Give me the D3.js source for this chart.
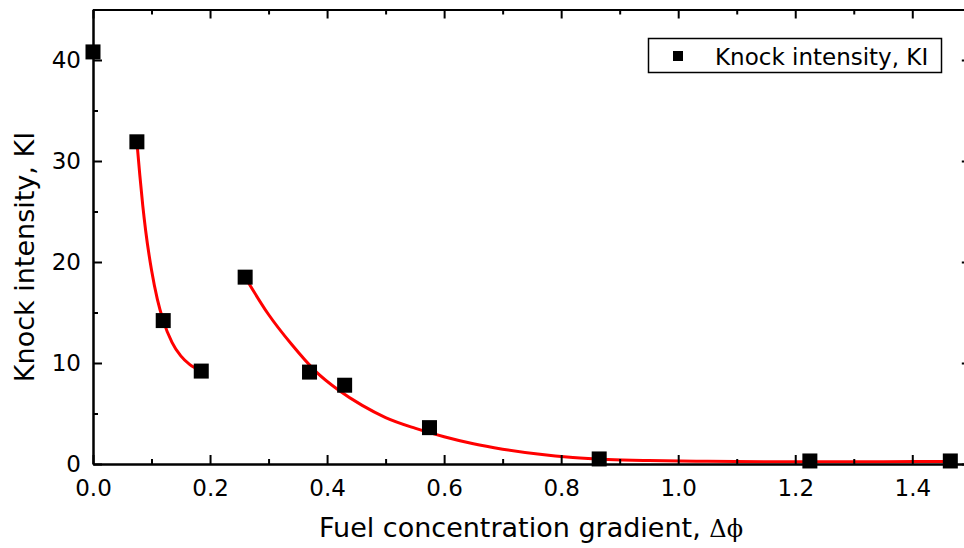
<!DOCTYPE html>
<html>
<head>
<meta charset="utf-8">
<script src="https://cdn.jsdelivr.net/npm/d3@7"></script>
<style>
  html, body { margin: 0; padding: 0; background: #fff; }
  svg { display: block; }
  text { font-family: "DejaVu Sans", "Liberation Sans", sans-serif; fill: #000; }
</style>
</head>
<body>
<svg id="chart" width="964" height="548"></svg>
<script>
// ---- data ----
const pointX = [0.0, 0.075, 0.12, 0.185, 0.26, 0.37, 0.43, 0.575, 0.865, 1.225, 1.465];
const pointY = [40.8, 31.9, 14.2, 9.2, 18.5, 9.1, 7.8, 3.6, 0.5, 0.3, 0.3];

// fitted curve 1
const fit1X = [0.075, 0.08, 0.085, 0.09, 0.10, 0.11, 0.12, 0.135, 0.15, 0.165, 0.185];
const fit1Y = [31.9, 28.6, 25.6, 23.1, 19.2, 16.3, 14.2, 12.05, 10.7, 9.86, 9.2];

// fitted curve 2
const fit2X = [0.26, 0.30, 0.34, 0.38, 0.42, 0.46, 0.50, 0.55, 0.60, 0.65, 0.70, 0.76, 0.82, 0.88, 0.95, 1.05, 1.2, 1.35, 1.465];
const fit2Y = [18.5, 14.8, 11.8, 9.2, 7.3, 5.8, 4.6, 3.55, 2.7, 2.0, 1.47, 0.98, 0.64, 0.45, 0.34, 0.26, 0.22, 0.23, 0.25];

const xMajorTicks = [0.0, 0.2, 0.4, 0.6, 0.8, 1.0, 1.2, 1.4];
const xMinorTicks = [0.1, 0.3, 0.5, 0.7, 0.9, 1.1, 1.3, 1.5];
const yMajorTicks = [0, 10, 20, 30, 40];
const yMinorTicks = [5, 15, 25, 35, 45];
const xDomain = [0, 1.5];
const yDomain = [0, 45];

const xTitle = "Fuel concentration gradient, ";
const xTitleSym = "\u0394\u03D5";
const yTitle = "Knock intensity, KI";
const legendLabel = "Knock intensity, KI";

// ---- layout ----
const svg = d3.select("#chart");
const margin = { left: 93, top: 9.5 };
const plotW = 877.8, plotH = 454.5;

const x = d3.scaleLinear().domain(xDomain).range([0, plotW]);
const y = d3.scaleLinear().domain(yDomain).range([plotH, 0]);

const g = svg.append("g").attr("transform", `translate(${margin.left},${margin.top})`);

// curves
const line = d3.line().x(d => x(d[0])).y(d => y(d[1])).curve(d3.curveMonotoneX);
const fit1 = fit1X.map((v, i) => [v, fit1Y[i]]);
const fit2 = fit2X.map((v, i) => [v, fit2Y[i]]);
[fit1, fit2].forEach(d => {
  g.append("path").datum(d).attr("d", line)
    .attr("fill", "none").attr("stroke", "#ff0000").attr("stroke-width", 3);
});

// points
const sq = 15;
g.selectAll("rect.pt").data(pointX.map((v, i) => [v, pointY[i]])).enter()
  .append("rect").attr("class", "pt")
  .attr("x", d => x(d[0]) - sq / 2).attr("y", d => y(d[1]) - sq / 2)
  .attr("width", sq).attr("height", sq).attr("fill", "#000");

// axes
function styleAxis(sel) {
  sel.select(".domain").attr("stroke", "#000").attr("stroke-width", 2);
  sel.selectAll(".tick line").attr("stroke", "#000").attr("stroke-width", 2);
  sel.selectAll(".tick text").style("font-size", "23px").attr("fill", "#000");
}

const fmtX = d3.format(".1f");
g.append("g").attr("transform", `translate(0,${plotH})`)
  .call(d3.axisBottom(x).tickValues(xMajorTicks).tickFormat(fmtX).tickSize(-9).tickSizeOuter(0).tickPadding(16))
  .call(styleAxis);
g.append("g").attr("transform", `translate(0,${plotH})`)
  .call(d3.axisBottom(x).tickValues(xMinorTicks).tickFormat("").tickSize(-5).tickSizeOuter(0))
  .call(styleAxis);
g.append("g")
  .call(d3.axisTop(x).tickValues(xMajorTicks).tickFormat("").tickSize(-9).tickSizeOuter(0))
  .call(styleAxis);
g.append("g")
  .call(d3.axisTop(x).tickValues(xMinorTicks).tickFormat("").tickSize(-5).tickSizeOuter(0))
  .call(styleAxis);

g.append("g")
  .call(d3.axisLeft(y).tickValues(yMajorTicks).tickFormat(d3.format("d")).tickSize(-9).tickSizeOuter(0).tickPadding(12))
  .call(styleAxis);
g.append("g")
  .call(d3.axisLeft(y).tickValues(yMinorTicks).tickFormat("").tickSize(-5).tickSizeOuter(0))
  .call(styleAxis);
g.append("g").attr("transform", `translate(${plotW},0)`)
  .call(d3.axisRight(y).tickValues(yMajorTicks).tickFormat("").tickSize(-9).tickSizeOuter(0))
  .call(styleAxis);
g.append("g").attr("transform", `translate(${plotW},0)`)
  .call(d3.axisRight(y).tickValues(yMinorTicks).tickFormat("").tickSize(-5).tickSizeOuter(0))
  .call(styleAxis);

// axis titles
const xt = svg.append("text").attr("x", 531).attr("y", 537).attr("text-anchor", "middle")
  .style("font-size", "27px");
xt.append("tspan").text(xTitle);
xt.append("tspan").style("font-family", "'DejaVu Serif', 'Liberation Serif', serif").style("font-size", "24px").text(xTitleSym);

svg.append("text").attr("transform", "translate(34,257) rotate(-90)")
  .attr("text-anchor", "middle").style("font-size", "27px").text(yTitle);

// legend
const lg = svg.append("g");
lg.append("rect").attr("x", 648.5).attr("y", 38.5).attr("width", 293).attr("height", 34)
  .attr("fill", "#fff").attr("stroke", "#000").attr("stroke-width", 1.5);
lg.append("rect").attr("x", 673).attr("y", 51).attr("width", 10).attr("height", 10).attr("fill", "#000");
lg.append("text").attr("x", 715).attr("y", 65).style("font-size", "23px").text(legendLabel);
</script>
</body>
</html>
